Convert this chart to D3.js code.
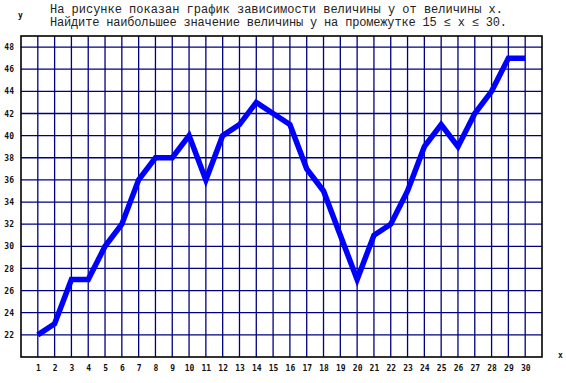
<!DOCTYPE html>
<html>
<head>
<meta charset="utf-8">
<script src="https://cdn.jsdelivr.net/npm/d3@7"></script>
<style>
  html, body { margin: 0; padding: 0; background: #fff; }
  svg { display: block; }
</style>
</head>
<body>
<script>
const xValues = [1,2,3,4,5,6,7,8,9,10,11,12,13,14,15,16,17,18,19,20,21,22,23,24,25,26,27,28,29,30];
const yValues = [22,23,27,27,30,32,36,38,38,40,36,40,41,43,42,41,37,35,31,27,31,32,35,39,41,39,42,44,47,47];
const yTicks = [22,24,26,28,30,32,34,36,38,40,42,44,46,48];
const titleLines = [
  "На рисунке показан график зависимости величины у от величины х.",
  "Найдите наибольшее значение величины у на промежутке 15 ≤ x ≤ 30."
];

const W = 566, H = 383;
const svg = d3.select("body").append("svg").attr("width", W).attr("height", H);

const x = d3.scaleLinear().domain([0, 31]).range([21, 542]);
const y = d3.scaleLinear().domain([20, 49]).range([357, 36]);

// grid
const grid = svg.append("g").attr("stroke", "#000080").attr("stroke-width", 1.3);
grid.selectAll("line.v").data(xValues).join("line").attr("class", "v")
  .attr("x1", d => x(d)).attr("x2", d => x(d))
  .attr("y1", y(49)).attr("y2", y(20));
grid.selectAll("line.h").data(yTicks).join("line").attr("class", "h")
  .attr("x1", x(0)).attr("x2", x(31))
  .attr("y1", d => y(d)).attr("y2", d => y(d));

// border
svg.append("rect")
  .attr("x", x(0)).attr("y", y(49))
  .attr("width", x(31) - x(0)).attr("height", y(20) - y(49))
  .attr("fill", "none").attr("stroke", "#000").attr("stroke-width", 1.6);

// axes labels via d3 axes (no lines)
const xAxis = d3.axisBottom(x).tickValues(xValues).tickSize(0).tickPadding(0).tickFormat(d3.format("d"));
const gx = svg.append("g").attr("transform", `translate(0, ${y(20) + 8})`).call(xAxis);
gx.select(".domain").remove();
gx.selectAll("text").attr("font-family", "DejaVu Sans Mono, monospace").attr("font-size", 8)
  .attr("font-weight", "bold").attr("fill", "#111").attr("dy", "0.71em");

const yAxis = d3.axisLeft(y).tickValues(yTicks).tickSize(0).tickPadding(0).tickFormat(d3.format("d"));
const gy = svg.append("g").attr("transform", `translate(14, 0)`).call(yAxis);
gy.select(".domain").remove();
gy.selectAll("text").attr("font-family", "DejaVu Sans Mono, monospace").attr("font-size", 8)
  .attr("font-weight", "bold").attr("fill", "#111");

// the line
const line = d3.line().x((d, i) => x(xValues[i])).y(d => y(d));
svg.append("path").datum(yValues)
  .attr("d", line)
  .attr("fill", "none").attr("stroke", "#0000ff").attr("stroke-width", 5.5)
  .attr("stroke-linejoin", "miter").attr("stroke-miterlimit", 3).attr("stroke-linecap", "butt");

// axis name labels
svg.append("text").attr("x", 18).attr("y", 18).text("у")
  .attr("font-family", "DejaVu Sans Mono, monospace").attr("font-size", 8).attr("font-weight", "bold").attr("fill", "#111");
svg.append("text").attr("x", 558).attr("y", 358).text("х")
  .attr("font-family", "DejaVu Sans Mono, monospace").attr("font-size", 8).attr("font-weight", "bold").attr("fill", "#111");

// title
const titleLen = [453, 457];
svg.append("g").selectAll("text").data(titleLines).join("text")
  .attr("x", 50).attr("y", (d, i) => 13 + i * 13)
  .attr("font-family", "Liberation Mono, Courier New, monospace").attr("font-size", 12)
  .attr("fill", "#222")
  .attr("xml:space", "preserve")
  .attr("textLength", (d, i) => titleLen[i])
  .attr("lengthAdjust", "spacing")
  .text(d => d);
</script>
</body>
</html>
